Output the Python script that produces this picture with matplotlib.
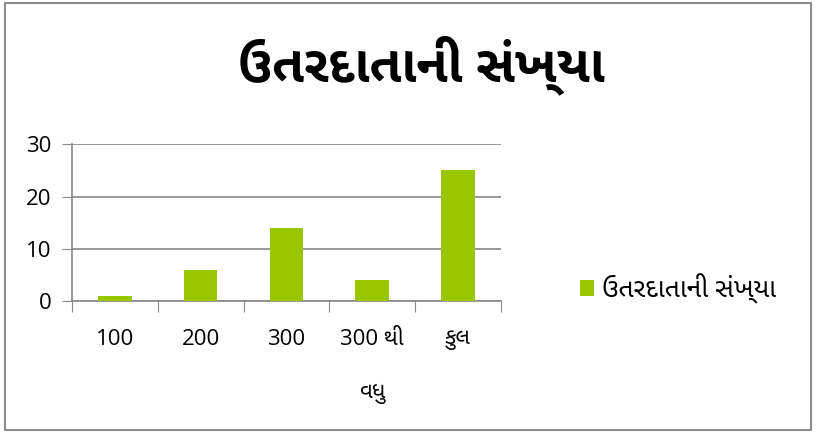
import matplotlib
matplotlib.use('Agg')
import matplotlib.pyplot as plt
from matplotlib import font_manager
from matplotlib.ft2font import FT2Font
from matplotlib.patches import Rectangle

title = 'ઉતરદાતાની સંખ્યા'
categories = ['100', '200', '300', '300 થી\nવધુ', 'કુલ']
values = [1, 6, 14, 4, 25]
yticks = [0, 10, 20, 30]
bar_color = '#99C600'


def gujarati_fonts():
    # every installed family that has Gujarati glyphs, sans before mono
    found = []
    for f in font_manager.fontManager.ttflist:
        try:
            cmap = FT2Font(f.fname).get_charmap()
        except Exception:
            continue
        if 0x0A89 in cmap and 0x0AA4 in cmap and f.name not in found:
            found.append(f.name)
    def rank(name):
        n = name.lower()
        if 'mono' in n:
            return 3
        if 'sans' in n:
            return 0
        if 'serif' in n:
            return 2
        return 1
    return sorted(found, key=rank)


guj = gujarati_fonts()
families = ['Open Sans'] + guj[:1] + ['DejaVu Sans']
plt.rcParams['font.family'] = families

fig = plt.figure(figsize=(8.23, 4.37), dpi=100)
fig.patches.append(Rectangle((0.006, 0.016), 0.98, 0.977, transform=fig.transFigure,
                             fill=False, edgecolor='#8c8c8c', linewidth=1.5))

ax = fig.add_axes([0.0875, 0.311, 0.521, 0.359])
x = range(len(categories))
ax.bar(x, values, width=0.39, color=bar_color, label=title, zorder=3)

ax.set_xlim(-0.5, len(categories) - 0.5)
ax.set_ylim(0, 30)
ax.set_yticks(yticks)
ax.yaxis.grid(True, color='#888888', linewidth=1.2, zorder=0)
ax.tick_params(axis='y', length=7, color='#888888', labelsize=16, pad=8)

ax.set_xticks([i - 0.5 for i in range(len(categories) + 1)])
ax.set_xticklabels([])
ax.set_xticks(list(x), minor=True)
ax.set_xticklabels(categories, minor=True, fontsize=16, linespacing=3.0, va='top')
ax.tick_params(axis='x', which='major', length=8, color='#888888')
ax.tick_params(axis='x', which='minor', length=0, pad=20)

for side in ['top', 'right']:
    ax.spines[side].set_visible(False)
ax.spines['left'].set_color('#888888')
ax.spines['bottom'].set_color('#888888')
ax.spines['left'].set_linewidth(1.2)
ax.spines['bottom'].set_linewidth(1.2)

fig.text(0.512, 0.85, title, fontsize=37, fontweight='bold', ha='center', va='center')

ax.legend(loc='center left', bbox_to_anchor=(1.13, 0.08), frameon=False, fontsize=19,
          handlelength=0.52, handleheight=0.52, handletextpad=0.3)

fig.savefig('out.png', dpi=100)
